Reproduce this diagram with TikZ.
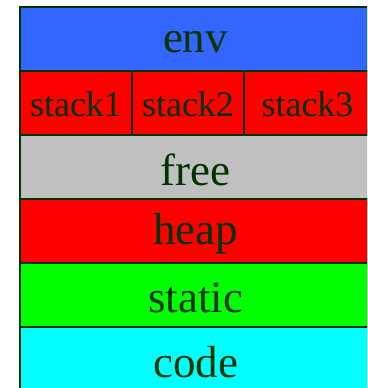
\documentclass[tikz,border=0pt]{standalone}
\usepackage{fontspec}
\setmainfont{Liberation Serif}
\definecolor{edge}{HTML}{003300}
\definecolor{envblue}{HTML}{3366FF}
\definecolor{freegray}{HTML}{C0C0C0}
\definecolor{cellred}{HTML}{FF0000}
\definecolor{cellgreen}{HTML}{00FF00}
\definecolor{cellcyan}{HTML}{00FFFF}
\newcommand{\lowr}[2]{\raisebox{-#1}[\height][\depth]{#2}}
\begin{document}
\begin{tikzpicture}[x=1pt,y=-1pt,
  cell/.style={draw=edge,line width=2pt,inner sep=0pt,text=edge,anchor=north west,minimum height=64pt},
  wide/.style={cell,minimum width=351pt,font=\fontsize{45}{45}\selectfont},
  small/.style={cell,font=\fontsize{36}{36}\selectfont}]
\useasboundingbox (0,0) rectangle (367,388);
\clip (0,0) rectangle (367,388);
\node[wide,fill=envblue] (env) at (19,6) {\lowr{3pt}{env}};
\node[small,fill=cellred,minimum width=112pt] (s1) at (19,70) {\lowr{1pt}{stack1}};
\node[small,fill=cellred,minimum width=112pt] (s2) at (131,70) {\lowr{1pt}{stack2}};
\node[small,fill=cellred,minimum width=127pt] (s3) at (243,70) {\lowr{1pt}{stack3}};
\node[wide,fill=freegray] (free) at (19,134) {\lowr{3pt}{free}};
\node[wide,fill=cellred] (heap) at (19,198) {\lowr{3pt}{heap}};
\node[wide,fill=cellgreen] (static) at (19,262) {\lowr{3pt}{static}};
\node[wide,fill=cellcyan] (code) at (19,326) {\lowr{3pt}{code}};
\end{tikzpicture}
\end{document}
